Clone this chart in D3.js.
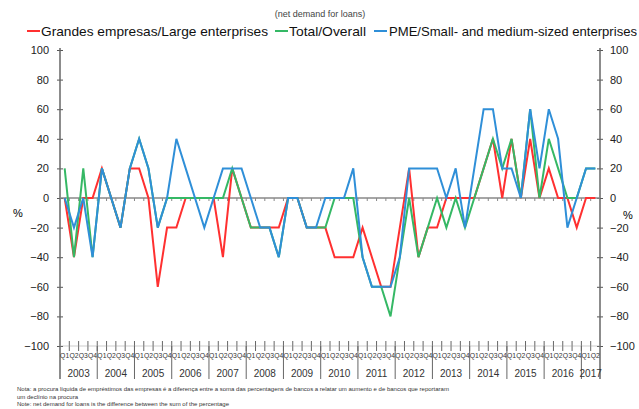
<!DOCTYPE html>
<html>
<head>
<meta charset="utf-8">
<script src="https://cdn.jsdelivr.net/npm/d3@7"></script>
<style>
  body { margin: 0; background: #fff; }
  svg { display: block; font-family: "Liberation Sans", Arial, sans-serif; }
</style>
</head>
<body>
<svg id="chart" width="639" height="409"></svg>
<script>
// quarters 2003 Q1 .. 2017 Q2
const years = ['2003', '2004', '2005', '2006', '2007', '2008', '2009', '2010', '2011', '2012', '2013', '2014', '2015', '2016', '2017'];
const quarterNames = ['Q1', 'Q2', 'Q3', 'Q4'];
const yTicks = [-100, -80, -60, -40, -20, 0, 20, 40, 60, 80, 100];

const large = [0, -40, 0, 0, 20, 0, -20, 20, 20, 0, -60, -20, -20, 0, 0, 0, 0, -40, 20, 0,
  -20, -20, -20, -20, 0, 0, -20, -20, -20, -40, -40, -40, -20, -40, -60, -60, -20, 20, -40, -20,
  -20, 0, 0, 0, 0, 20, 40, 0, 40, 0, 40, 0, 20, 0, 0, -20, 0, 0];
const overall = [20, -40, 20, -40, 20, 0, -20, 20, 40, 20, -20, 0, 0, 0, 0, 0, 0, 0, 20, 0,
  -20, -20, -20, -40, 0, 0, -20, -20, -20, 0, 0, 0, -40, -60, -60, -80, -40, 0, -40, -20,
  0, -20, 0, -20, 0, 20, 40, 20, 40, 0, 60, 0, 40, 20, 0, 0, 20, 20];
const sme = [0, -20, 0, -40, 20, 0, -20, 20, 40, 20, -20, 0, 40, 20, 0, -20, 0, 20, 20, 20,
  0, -20, -20, -40, 0, 0, -20, -20, 0, 0, 0, 20, -40, -60, -60, -60, -40, 20, 20, 20,
  20, 0, 20, -20, 20, 60, 60, 20, 20, 0, 60, 20, 60, 40, -20, 0, 20, 20];

const quarters = [];
years.forEach(yr => quarterNames.forEach((q, k) => {
  if (yr === '2017' && k > 1) return;
  quarters.push({ year: yr, q: q, key: yr + q });
}));

const series = [
  { name: 'Grandes empresas/Large enterprises', color: '#ff3030', values: large },
  { name: 'Total/Overall', color: '#35b865', values: overall },
  { name: 'PME/Small- and medium-sized enterprises', color: '#2f8fd8', values: sme }
];

const svg = d3.select('#chart');
const plotLeft = 60, plotRight = 600, plotTop = 50, plotBottom = 346;

const x = d3.scaleBand().domain(quarters.map(d => d.key)).range([plotLeft, plotRight]);
const y = d3.scaleLinear().domain([-100, 100]).range([plotBottom, plotTop]);
const bw = x.bandwidth();

// title + legend
svg.append('text')
  .attr('x', 320).attr('y', 17)
  .attr('text-anchor', 'middle')
  .style('font-size', '9px').style('fill', '#444')
  .text('(net demand for loans)');

const legendPos = [
  { x1: 27, tx: 41, w: 227 },
  { x1: 275, tx: 289, w: 77 },
  { x1: 374, tx: 389, w: 248 }
];
series.forEach((s, i) => {
  const p = legendPos[i];
  svg.append('line')
    .attr('x1', p.x1).attr('x2', p.x1 + 13)
    .attr('y1', 31).attr('y2', 31)
    .attr('stroke', s.color).attr('stroke-width', 2);
  svg.append('text')
    .attr('x', p.tx).attr('y', 35.5)
    .attr('textLength', p.w).attr('lengthAdjust', 'spacingAndGlyphs')
    .style('font-size', '13px').style('fill', '#111')
    .text(s.name);
});

// left and right value axes
const leftAxis = svg.append('g').attr('transform', `translate(${plotLeft},0)`)
  .call(d3.axisLeft(y).tickValues(yTicks).tickSize(3).tickPadding(8));
const rightAxis = svg.append('g').attr('transform', `translate(${plotRight},0)`)
  .call(d3.axisRight(y).tickValues(yTicks).tickSize(3).tickPadding(7));
[leftAxis, rightAxis].forEach(g => {
  g.select('.domain').remove();
  g.selectAll('.tick line').attr('x1', -3).attr('x2', 3).attr('stroke', '#555');
  g.selectAll('.tick text').style('font-size', '11px').style('fill', '#222').style('font-family', '"Liberation Sans", Arial, sans-serif');
});
svg.append('line').attr('x1', plotLeft).attr('x2', plotLeft).attr('y1', plotTop - 2).attr('y2', 379).attr('stroke', '#666').attr('stroke-width', 1.5);
svg.append('line').attr('x1', plotRight).attr('x2', plotRight).attr('y1', plotTop - 2).attr('y2', 379).attr('stroke', '#666').attr('stroke-width', 1.5);

svg.append('text').attr('x', 18).attr('y', 217).attr('text-anchor', 'middle').style('font-size', '11px').text('%');
svg.append('text').attr('x', 628).attr('y', 219).attr('text-anchor', 'middle').style('font-size', '11px').text('%');

// zero line with quarter ticks
svg.append('line')
  .attr('x1', plotLeft).attr('x2', plotRight)
  .attr('y1', y(0)).attr('y2', y(0))
  .attr('stroke', '#888').attr('stroke-width', 1.5);
svg.append('g').selectAll('line')
  .data(quarters.slice(1))
  .join('line')
  .attr('x1', d => x(d.key)).attr('x2', d => x(d.key))
  .attr('y1', y(0)).attr('y2', y(0) + 3)
  .attr('stroke', '#888');

// category axis at the bottom
svg.append('g').selectAll('line')
  .data(quarters.slice(1))
  .join('line')
  .attr('x1', d => x(d.key)).attr('x2', d => x(d.key))
  .attr('y1', plotBottom - 5).attr('y2', plotBottom + 5)
  .attr('stroke', '#666');
svg.append('line').attr('x1', plotLeft).attr('x2', plotRight).attr('y1', plotBottom).attr('y2', plotBottom).attr('stroke', '#999').attr('stroke-width', 0.5);

// quarter labels
svg.append('g').selectAll('text')
  .data(quarters)
  .join('text')
  .attr('x', d => x(d.key) + bw / 2)
  .attr('y', 358)
  .attr('text-anchor', 'middle')
  .style('font-size', '6.8px').style('fill', '#333')
  .text(d => d.q);

const yearStart = years.map(yr => quarters.find(q => q.year === yr).key);
svg.append('g').selectAll('line')
  .data(yearStart.slice(1))
  .join('line')
  .attr('x1', d => x(d)).attr('x2', d => x(d))
  .attr('y1', plotBottom).attr('y2', 379)
  .attr('stroke', '#666');
svg.append('g').selectAll('text')
  .data(years)
  .join('text')
  .attr('x', yr => {
    const qs = quarters.filter(q => q.year === yr);
    return (x(qs[0].key) + x(qs[qs.length - 1].key) + bw) / 2;
  })
  .attr('y', 377)
  .attr('text-anchor', 'middle')
  .style('font-size', '10px').style('fill', '#333')
  .text(d => d);

// lines
const line = d3.line()
  .x((d, i) => x(quarters[i].key) + bw / 2)
  .y(d => y(d));
svg.append('g').selectAll('path')
  .data(series)
  .join('path')
  .attr('d', s => line(s.values))
  .attr('fill', 'none')
  .attr('stroke', s => s.color)
  .attr('stroke-width', 2)
  .attr('stroke-linejoin', 'miter');

// notes
const notes = [
  'Nota: a procura líquida de empréstimos das empresas é a diferença entre a soma das percentagens de bancos a relatar um aumento e de bancos que reportaram',
  'um declínio na procura',
  'Note: net demand  for loans  is the difference between the sum of the percentage'
];
svg.append('g').selectAll('text')
  .data(notes)
  .join('text')
  .attr('x', 17)
  .attr('y', (d, i) => 391 + i * 7.5)
  .style('font-size', '6px').style('fill', '#333')
  .text(d => d);
</script>
</body>
</html>
